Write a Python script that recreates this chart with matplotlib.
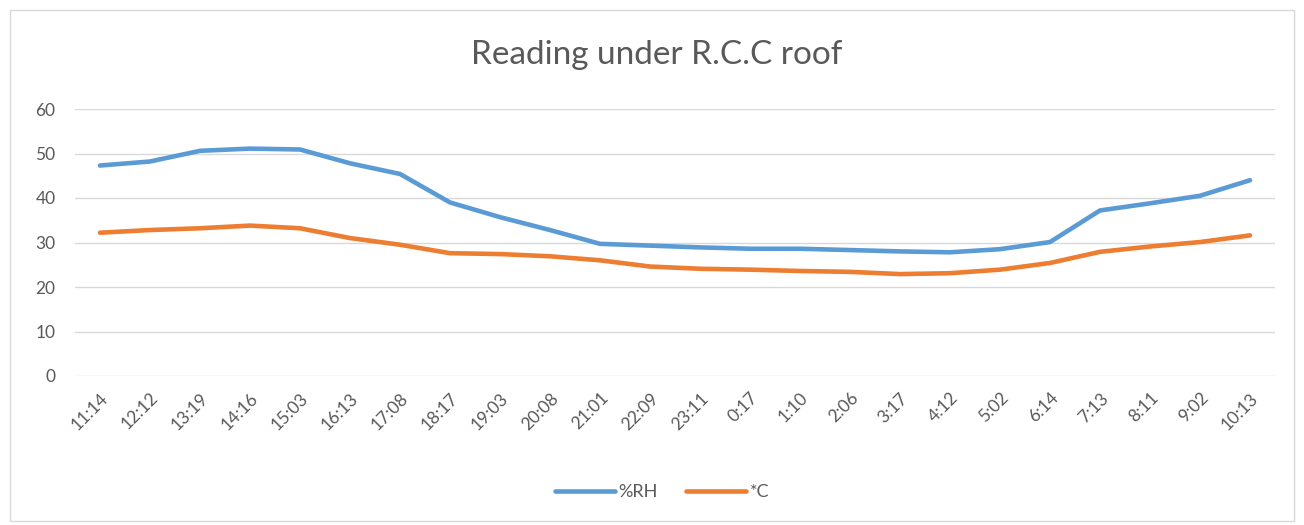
import matplotlib
matplotlib.use("Agg")
import matplotlib.pyplot as plt
from matplotlib.patches import Rectangle

times = ["11:14", "12:12", "13:19", "14:16", "15:03", "16:13", "17:08", "18:17",
         "19:03", "20:08", "21:01", "22:09", "23:11", "0:17", "1:10", "2:06",
         "3:17", "4:12", "5:02", "6:14", "7:13", "8:11", "9:02", "10:13"]
rh = [47.3, 48.2, 50.6, 51.1, 50.9, 47.8, 45.4, 39.0,
      35.7, 32.8, 29.7, 29.3, 28.9, 28.6, 28.6, 28.3,
      28.0, 27.8, 28.5, 30.1, 37.2, 38.8, 40.5, 44.0]
temp_c = [32.2, 32.8, 33.2, 33.8, 33.2, 31.0, 29.5, 27.6,
          27.4, 26.9, 26.0, 24.6, 24.1, 23.9, 23.6, 23.4,
          22.9, 23.1, 23.9, 25.4, 27.9, 29.1, 30.1, 31.6]
yticks = [0, 10, 20, 30, 40, 50, 60]

FONT = ["Lato", "DejaVu Sans"]
TXT = "#595959"

fig = plt.figure(figsize=(13.04, 5.25), dpi=100)
fig.patches.append(Rectangle((10/1304, 4/525), 1284/1304, 511/525, transform=fig.transFigure,
                             fill=False, edgecolor="#D9D9D9", linewidth=1))

ax = fig.add_axes([75/1304, 1-376/525, 1200/1304, 267/525])
x = list(range(len(times)))
ax.plot(x, rh, color="#5B9BD5", linewidth=3.3, solid_capstyle="round", label="%RH")
ax.plot(x, temp_c, color="#ED7D31", linewidth=3.3, solid_capstyle="round", label="*C")

ax.set_xlim(-0.5, len(times) - 0.5)
ax.set_ylim(0, 60)
ax.set_yticks(yticks)
ax.set_yticklabels([str(v) for v in yticks], fontsize=12.5, color=TXT, family=FONT)
ax.set_xticks(x)
ax.set_xticklabels(times, rotation=45, ha="right", rotation_mode="anchor",
                   fontsize=12.5, color=TXT, family=FONT)
ax.tick_params(axis="both", length=0)
ax.tick_params(axis="x", pad=10)
ax.tick_params(axis="y", pad=14)
ax.grid(axis="y", color="#D9D9D9", linewidth=1)
ax.set_axisbelow(True)
for s in ax.spines.values():
    s.set_visible(False)

fig.text(657/1304, 1-55/525, "Reading under R.C.C roof", ha="center", va="center",
         fontsize=24, color=TXT, family=FONT, fontweight="normal")

leg = fig.legend(loc="center", bbox_to_anchor=(662/1304, 1-492/525), ncol=2, frameon=False,
                 prop={"family": FONT, "size": 13}, handlelength=3.3, columnspacing=1.6,
                 handletextpad=0.2)
for t in leg.get_texts():
    t.set_color(TXT)

fig.savefig("out.png", dpi=100)
